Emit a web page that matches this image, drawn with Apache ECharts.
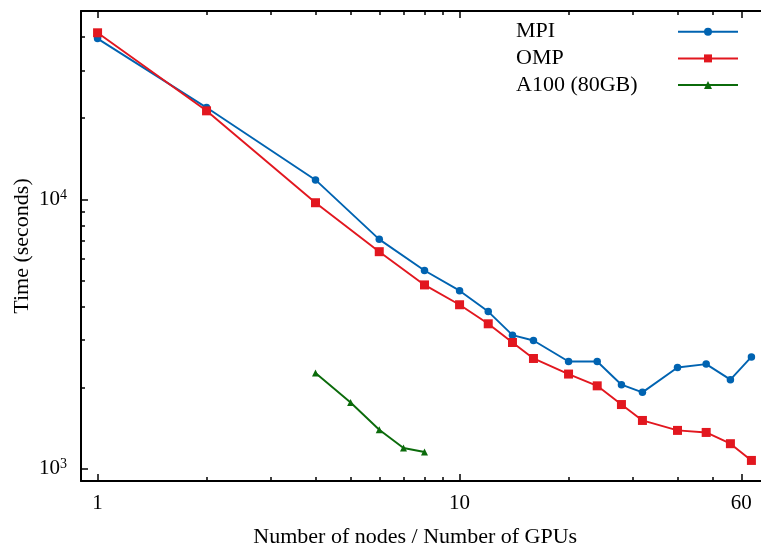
<!DOCTYPE html>
<html>
<head>
<meta charset="utf-8">
<script src="https://cdn.jsdelivr.net/npm/echarts@6/dist/echarts.min.js"></script>
<style>
html,body{margin:0;padding:0;background:#fff;}
#chart{width:761px;height:547px;}
</style>
</head>
<body>
<div id="chart"></div>
<script>
// ---- data ----
const nodes = [1, 2, 4, 6, 8, 10, 12, 14, 16, 20, 24, 28, 32, 40, 48, 56, 64];
const mpiTime = [39500, 21900, 11800, 7100, 5440, 4580, 3830, 3130, 2990, 2500, 2500, 2050, 1920, 2375, 2445, 2140, 2600];
const ompTime = [41500, 21300, 9710, 6390, 4810, 4060, 3450, 2940, 2565, 2245, 2030, 1730, 1510, 1387, 1363, 1238, 1073];
const gpuCount = [4, 5, 6, 7, 8];
const gpuTime = [2265, 1760, 1395, 1193, 1153];
const seriesNames = ['MPI', 'OMP', 'A100 (80GB)'];
const xMajorTicks = [1, 10, 60];
const xMinorTicks = [2, 3, 4, 5, 6, 7, 8, 9, 20, 30, 40, 50];
const yMajorTicks = [1000, 10000];
const yMinorTicks = [2000, 3000, 4000, 5000, 6000, 7000, 8000, 9000, 20000, 30000, 40000];
const xTitle = 'Number of nodes / Number of GPUs';
const yTitle = 'Time (seconds)';

const pairs = (xs, ys) => xs.map((x, i) => [x, ys[i]]);
const FONT = "'Liberation Serif', 'DejaVu Serif', serif";
const X_MIN = 0.9, X_MAX = 70, Y_MIN = 900, Y_MAX = 50000;

function xAx(position, ticks, len, showLine, showLabel) {
  return {
    type: 'log', logBase: 10, min: X_MIN, max: X_MAX, position: position,
    axisLine: { show: showLine, lineStyle: { color: '#000', width: 2 } },
    axisTick: { show: true, inside: true, length: len, customValues: ticks, lineStyle: { color: '#000', width: 1.5 } },
    axisLabel: showLabel ? { show: true, customValues: ticks, margin: 12, fontSize: 21, fontFamily: FONT, color: '#000',
      formatter: v => String(Math.round(v)) } : { show: false },
    splitLine: { show: false }, minorTick: { show: false }
  };
}
function yAx(ticks, len, showLine, showLabel) {
  return {
    type: 'log', logBase: 10, min: Y_MIN, max: Y_MAX, position: 'left',
    axisLine: { show: showLine, lineStyle: { color: '#000', width: 2 } },
    axisTick: { show: true, inside: true, length: len, customValues: ticks, lineStyle: { color: '#000', width: 1.5 } },
    axisLabel: showLabel ? { show: true, customValues: ticks, margin: 14, color: '#000',
      formatter: v => '{b|10}{s|' + Math.round(Math.log10(v)) + '}',
      rich: {
        b: { fontSize: 21, fontFamily: FONT, color: '#000', lineHeight: 22 },
        s: { fontSize: 14, fontFamily: FONT, color: '#000', lineHeight: 10, verticalAlign: 'top' }
      } } : { show: false },
    splitLine: { show: false }, minorTick: { show: false }
  };
}

const xAxes = [
  xAx('bottom', xMajorTicks, 7, true, true),
  xAx('bottom', xMinorTicks, 4, false, false),
  xAx('top', xMajorTicks, 7, true, false),
  xAx('top', xMinorTicks, 4, false, false)
];
Object.assign(xAxes[0], { name: xTitle, nameLocation: 'middle', nameGap: 45,
  nameTextStyle: { fontSize: 22, fontFamily: FONT, color: '#000', padding: [0, 16, 0, 0] } });
const yAxes = [
  yAx(yMajorTicks, 7, true, true),
  yAx(yMinorTicks, 4, false, false)
];
Object.assign(yAxes[0], { name: yTitle, nameLocation: 'middle', nameGap: 48, nameMoveOverlap: false,
  nameTextStyle: { fontSize: 22, fontFamily: FONT, color: '#000' } });

const colors = ['#0063b1', '#e2171f', '#0b6b0b'];
function line(name, data, color, symbol, size) {
  return {
    name: name, type: 'line', data: data, xAxisIndex: 0, yAxisIndex: 0,
    symbol: symbol, symbolSize: size, showSymbol: true,
    lineStyle: { color: color, width: 1.9 }, itemStyle: { color: color },
    emphasis: { disabled: true }
  };
}

const chart = echarts.init(document.getElementById('chart'), null, { renderer: 'canvas' });
chart.setOption({
  animation: false,
  backgroundColor: '#fff',
  grid: { left: 81, top: 11, width: 684.5, height: 470, containLabel: false, outerBoundsMode: 'none' },
  xAxis: xAxes,
  yAxis: yAxes,
  legend: {
    orient: 'vertical', align: 'right', left: 516, top: 20.7, padding: 0,
    itemWidth: 60, itemHeight: 10, itemGap: 4.7,
    data: seriesNames,
    formatter: n => '{a|' + n + '}',
    textStyle: { fontSize: 22, fontFamily: FONT, color: '#000',
      rich: { a: { width: 157, align: 'left', fontSize: 22, fontFamily: FONT, color: '#000', lineHeight: 22 } } }
  },
  series: [
    line(seriesNames[0], pairs(nodes, mpiTime), colors[0], 'circle', 7.5),
    line(seriesNames[1], pairs(nodes, ompTime), colors[1], 'rect', 9),
    line(seriesNames[2], pairs(gpuCount, gpuTime), colors[2], 'triangle', 7)
  ]
});
</script>
</body>
</html>
